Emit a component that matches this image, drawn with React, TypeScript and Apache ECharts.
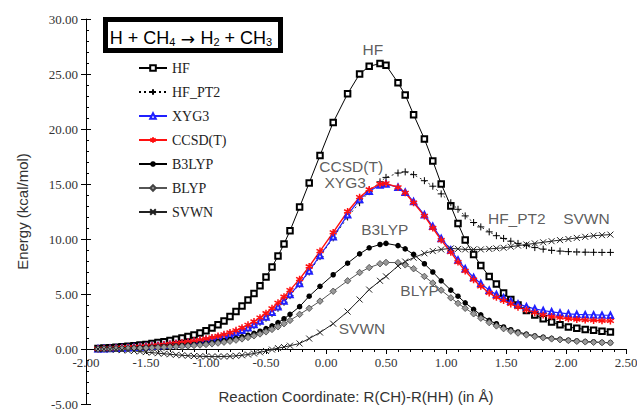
import React, { useEffect, useRef } from 'react';
import * as echarts from 'echarts';

// Reaction coordinate R(CH)-R(HH) in Å (shared sample points)
const coords = [
  -1.90, -1.85, -1.80, -1.75, -1.70, -1.65, -1.60, -1.55, -1.50, -1.45,
  -1.40, -1.35, -1.30, -1.25, -1.20, -1.15, -1.10, -1.05, -1.00, -0.95,
  -0.90, -0.85, -0.80, -0.75, -0.70, -0.65, -0.60, -0.55, -0.50, -0.45,
  -0.40, -0.35, -0.30, -0.22, -0.14, -0.05, 0.06, 0.18, 0.28, 0.36,
  0.45, 0.50, 0.60, 0.66, 0.73, 0.82, 0.89, 0.96, 1.04, 1.10,
  1.16, 1.23, 1.29, 1.36, 1.42, 1.48, 1.54, 1.60, 1.67, 1.74,
  1.81, 1.88, 1.95, 2.02, 2.09, 2.16, 2.23, 2.30, 2.37,
];

const hf = [
  0.05, 0.08, 0.12, 0.15, 0.2, 0.25, 0.3, 0.36, 0.42, 0.5,
  0.58, 0.67, 0.77, 0.88, 1.0, 1.13, 1.28, 1.45, 1.65, 1.9,
  2.2, 2.55, 2.95, 3.4, 3.9, 4.45, 5.05, 5.75, 6.55, 7.45,
  8.45, 9.55, 10.75, 12.9, 15.1, 17.6, 20.6, 23.2, 25.0, 25.7,
  25.95, 25.8, 24.2, 23.1, 21.3, 19.1, 17.1, 15.0, 13.0, 11.4,
  9.9, 8.6, 7.6, 6.6, 5.9, 5.1, 4.5, 4.0, 3.5, 3.1,
  2.75, 2.45, 2.2, 2.0, 1.88, 1.78, 1.7, 1.62, 1.55,
];

const hfPt2 = [
  0.02, 0.03, 0.05, 0.07, 0.09, 0.11, 0.14, 0.17, 0.21, 0.25,
  0.29, 0.33, 0.38, 0.43, 0.48, 0.54, 0.61, 0.68, 0.77, 0.87,
  0.98, 1.1, 1.25, 1.42, 1.62, 1.85, 2.12, 2.43, 2.8, 3.22,
  3.7, 4.25, 4.85, 5.9, 7.0, 8.4, 10.1, 12.0, 13.3, 14.3,
  15.2, 15.6, 16.0, 16.1, 15.85, 15.3, 14.8, 14.1, 13.3, 12.7,
  12.1, 11.5, 11.1, 10.65, 10.3, 10.05, 9.8, 9.6, 9.4, 9.22,
  9.08, 8.97, 8.9, 8.85, 8.82, 8.8, 8.79, 8.78, 8.78,
];

const xyg3 = [
  0.02, 0.03, 0.05, 0.07, 0.09, 0.12, 0.15, 0.18, 0.22, 0.26,
  0.3, 0.35, 0.4, 0.45, 0.51, 0.57, 0.64, 0.72, 0.81, 0.91,
  1.03, 1.16, 1.31, 1.49, 1.7, 1.94, 2.22, 2.54, 2.92, 3.35,
  3.83, 4.36, 4.95, 5.95, 7.1, 8.5, 10.2, 12.2, 13.6, 14.35,
  14.9, 15.0, 14.7, 14.25, 13.4, 12.2, 11.15, 10.05, 9.0, 8.1,
  7.3, 6.5, 5.95, 5.35, 4.95, 4.65, 4.35, 4.1, 3.85, 3.65,
  3.5, 3.38, 3.28, 3.2, 3.15, 3.12, 3.1, 3.08, 3.07,
];

const ccsdt = [
  0.02, 0.04, 0.06, 0.08, 0.11, 0.14, 0.17, 0.21, 0.25, 0.3,
  0.35, 0.4, 0.46, 0.52, 0.59, 0.66, 0.74, 0.83, 0.93, 1.05,
  1.18, 1.33, 1.5, 1.7, 1.93, 2.2, 2.5, 2.85, 3.25, 3.7,
  4.2, 4.75, 5.35, 6.35, 7.5, 8.9, 10.6, 12.5, 13.8, 14.5,
  15.0, 15.05, 14.7, 14.2, 13.3, 12.1, 11.0, 9.9, 8.8, 7.9,
  7.1, 6.3, 5.7, 5.1, 4.7, 4.4, 4.1, 3.8, 3.55, 3.3,
  3.1, 2.95, 2.85, 2.75, 2.68, 2.63, 2.6, 2.57, 2.55,
];

const b3lyp = [
  0.0, 0.01, 0.02, 0.03, 0.04, 0.06, 0.08, 0.1, 0.12, 0.15,
  0.18, 0.21, 0.24, 0.28, 0.32, 0.36, 0.41, 0.46, 0.52, 0.59,
  0.67, 0.76, 0.86, 0.97, 1.1, 1.25, 1.42, 1.62, 1.85, 2.1,
  2.4, 2.75, 3.15, 3.85, 4.8, 5.7, 6.75, 7.8, 8.65, 9.2,
  9.5, 9.6, 9.4, 9.1, 8.6, 7.75, 7.0, 6.2, 5.35, 4.8,
  4.2, 3.6, 3.1, 2.6, 2.3, 2.0, 1.75, 1.55, 1.35, 1.2,
  1.07, 0.97, 0.88, 0.8, 0.73, 0.68, 0.64, 0.6, 0.58,
];

const blyp = [
  0.0, 0.0, 0.01, 0.02, 0.03, 0.04, 0.05, 0.07, 0.09, 0.11,
  0.13, 0.15, 0.18, 0.21, 0.24, 0.28, 0.32, 0.36, 0.41, 0.47,
  0.54, 0.62, 0.71, 0.81, 0.92, 1.05, 1.2, 1.37, 1.56, 1.78,
  2.02, 2.3, 2.6, 3.15, 3.7, 4.35, 5.25, 6.2, 6.95, 7.4,
  7.75, 7.87, 7.85, 7.65, 7.3, 6.6, 6.0, 5.35, 4.65, 4.15,
  3.7, 3.2, 2.8, 2.4, 2.1, 1.85, 1.62, 1.45, 1.28, 1.14,
  1.02, 0.92, 0.84, 0.77, 0.7, 0.65, 0.61, 0.58, 0.56,
];

const svwn = [
  0.0, -0.02, -0.04, -0.07, -0.1, -0.14, -0.18, -0.23, -0.28, -0.33,
  -0.38, -0.43, -0.48, -0.53, -0.57, -0.61, -0.64, -0.66, -0.68, -0.69,
  -0.69, -0.68, -0.66, -0.62, -0.57, -0.5, -0.41, -0.3, -0.18, -0.05,
  0.08, 0.18, 0.3, 0.5, 0.95, 1.5, 2.3, 3.4, 4.5, 5.4,
  6.2, 6.6, 7.55, 7.95, 8.3, 8.7, 8.9, 9.05, 9.15, 9.1,
  9.05, 9.05, 9.05, 9.1, 9.15, 9.2, 9.3, 9.4, 9.5, 9.6,
  9.7, 9.8, 9.9, 10.0, 10.1, 10.2, 10.3, 10.35, 10.4,
];

const seriesNames = ['HF', 'HF_PT2', 'XYG3', 'CCSD(T)', 'B3LYP', 'BLYP', 'SVWN'];

// Curve labels placed in data coordinates
const annotationTexts = ['HF', 'CCSD(T)', 'XYG3', 'B3LYP', 'BLYP', 'SVWN', 'HF_PT2', 'SVWN'];
const annotationX = [0.39, 0.21, 0.16, 0.49, 0.78, 0.30, 1.59, 2.17];
const annotationY = [27.2, 16.6, 15.1, 10.9, 5.3, 1.9, 11.9, 11.9];

const xMin = -2;
const xMax = 2.5;
const xStep = 0.5;
const yMin = -5;
const yMax = 30;
const yStep = 5;

const GRID_TOP = 19;
const GRID_BOTTOM = 6;
const CHART_H = 410;

export default function App() {
  const ref = useRef<HTMLDivElement>(null);

  useEffect(() => {
    const chart = echarts.init(ref.current as HTMLDivElement, null, { renderer: 'svg' });
    const pts = (arr: number[]) => coords.map((x, i) => [x, arr[i]]);

    const PLUS = 'path://M5,0L5,10M0,5L10,5';
    const CROSS = 'path://M0,0L10,10M10,0L0,10';
    const STAR = 'path://M5,0L5,10M0,2.5L10,7.5M10,2.5L0,7.5';

    const serif = 'Liberation Serif';
    const sans = 'Liberation Sans';

    // x axis sits at y = 0: shift it up from the grid bottom by the y-distance from yMin to 0
    const plotH = CHART_H - GRID_TOP - GRID_BOTTOM;
    const zeroOffset = -((0 - yMin) / (yMax - yMin)) * plotH;

    const option: any = {
      animation: false,
      backgroundColor: '#fff',
      grid: { left: 86, right: 11, top: GRID_TOP, bottom: GRID_BOTTOM, containLabel: false, outerBoundsMode: 'none' },
      legend: {
        orient: 'vertical',
        left: 138,
        top: 61,
        padding: 0,
        itemWidth: 28,
        itemHeight: 7,
        itemGap: 10,
        data: seriesNames,
        textStyle: { fontFamily: serif, fontSize: 14, color: '#222', lineHeight: 14 },
      },
      xAxis: {
        type: 'value',
        min: xMin,
        max: xMax,
        interval: xStep,
        position: 'bottom',
        offset: zeroOffset,
        axisLine: { onZero: false, lineStyle: { color: '#000', width: 1 } },
        axisTick: { show: true, length: 5, lineStyle: { color: '#000' } },
        minorTick: { show: true, splitNumber: 5, length: 3, lineStyle: { color: '#000' } },
        splitLine: { show: false },
        axisLabel: {
          formatter: (v: number) => v.toFixed(2),
          fontFamily: serif,
          fontSize: 13,
          color: '#333',
          margin: 7,
          showMinLabel: true,
          showMaxLabel: true,
        },
        name: 'Reaction Coordinate: R(CH)-R(HH) (in Å)',
        nameLocation: 'middle',
        nameGap: 40,
        nameTextStyle: { fontFamily: sans, fontSize: 15, color: '#333' },
      },
      yAxis: [
        {
          type: 'value',
          min: yMin,
          max: yMax,
          interval: yStep,
          axisLine: { show: true, onZero: false, lineStyle: { color: '#000', width: 1 } },
          axisTick: { show: true, length: 5, lineStyle: { color: '#000' } },
          splitLine: { show: false },
          axisLabel: {
            formatter: (v: number) => v.toFixed(2),
            fontFamily: serif,
            fontSize: 13,
            color: '#333',
            margin: 8,
            showMinLabel: true,
            showMaxLabel: true,
          },
          name: 'Energy (kcal/mol)',
          nameLocation: 'middle',
          nameGap: 56,
          nameTextStyle: { fontFamily: sans, fontSize: 15, color: '#333' },
        },
        {
          type: 'value',
          min: yMin,
          max: yMax,
          interval: yStep,
          position: 'left',
          axisLine: { show: false, onZero: false },
          axisTick: { show: true, inside: true, length: 5, lineStyle: { color: '#000' } },
          minorTick: { show: true, splitNumber: 5, length: 3, lineStyle: { color: '#000' } },
          splitLine: { show: false },
          axisLabel: { show: false },
        },
      ],
      series: [
        {
          name: 'HF', type: 'line', data: pts(hf), symbol: 'emptyRect', symbolSize: 5.5,
          lineStyle: { color: '#000', width: 1 }, itemStyle: { color: '#000', borderWidth: 1 },
        },
        {
          name: 'HF_PT2', type: 'line', data: pts(hfPt2), symbol: PLUS, symbolSize: 7,
          lineStyle: { color: '#000', width: 0.8, type: [2, 3] },
          itemStyle: { color: '#000', borderColor: '#000', borderWidth: 1 },
        },
        {
          name: 'XYG3', type: 'line', data: pts(xyg3), symbol: 'emptyTriangle', symbolSize: 5.5,
          lineStyle: { color: '#2020ff', width: 1.2 }, itemStyle: { color: '#2020ff', borderWidth: 1 },
        },
        {
          name: 'CCSD(T)', type: 'line', data: pts(ccsdt), symbol: STAR, symbolSize: 7,
          lineStyle: { color: '#ff1010', width: 1.4 },
          itemStyle: { color: '#ff1010', borderColor: '#ff1010', borderWidth: 1.5 },
        },
        {
          name: 'B3LYP', type: 'line', data: pts(b3lyp), symbol: 'circle', symbolSize: 5.5,
          lineStyle: { color: '#000', width: 1 }, itemStyle: { color: '#000' },
        },
        {
          name: 'BLYP', type: 'line', data: pts(blyp), symbol: 'diamond', symbolSize: 6.5,
          lineStyle: { color: '#555', width: 1 },
          itemStyle: { color: '#999', borderColor: '#444', borderWidth: 0.8 },
        },
        {
          name: 'SVWN', type: 'line', data: pts(svwn), symbol: CROSS, symbolSize: 6,
          lineStyle: { color: '#222', width: 1 },
          itemStyle: { color: '#222', borderColor: '#222', borderWidth: 1 },
        },
        {
          name: 'labels', type: 'scatter', silent: true, symbolSize: 1,
          itemStyle: { color: 'transparent' },
          data: annotationTexts.map((t, i) => ({ name: t, value: [annotationX[i], annotationY[i]] })),
          label: {
            show: true, position: 'inside', formatter: '{b}',
            fontFamily: sans, fontSize: 15.5, lineHeight: 15, color: '#333',
          },
          z: 5,
        },
      ],
      graphic: [
        {
          type: 'rect', z: 100,
          shape: { x: 105.5, y: 19.5, width: 175, height: 31 },
          style: { fill: '#fff', stroke: '#000', lineWidth: 5 },
        },
        {
          type: 'text', z: 101, x: 191, y: 35,
          style: {
            text: '{n|H + CH}{s|4}{a| → }{n|H}{s|2}{n| + CH}{s|3}',
            align: 'center',
            verticalAlign: 'middle',
            rich: {
              n: { fontFamily: sans, fontSize: 18, fill: '#000', lineHeight: 24, verticalAlign: 'bottom' },
              a: { fontFamily: 'DejaVu Sans', fontSize: 17, fill: '#000', lineHeight: 24, verticalAlign: 'bottom' },
              s: { fontFamily: sans, fontSize: 11, fill: '#000', lineHeight: 13, verticalAlign: 'bottom' },
            },
          },
        },
      ],
    };

    chart.setOption(option);
    return () => chart.dispose();
  }, []);

  return (
    <div
      ref={ref}
      style={{ position: 'fixed', left: 0, top: 0, width: 637, height: 410, background: '#fff' }}
    />
  );
}
